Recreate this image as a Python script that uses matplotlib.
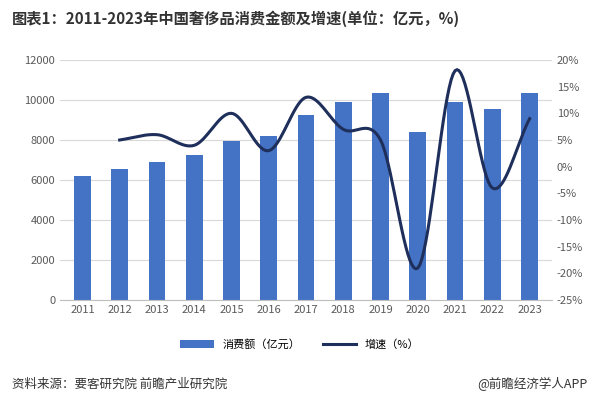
import numpy as np
import matplotlib.pyplot as plt

plt.rcParams["font.family"] = "Noto Sans CJK SC"

years = ["2011", "2012", "2013", "2014", "2015", "2016", "2017",
         "2018", "2019", "2020", "2021", "2022", "2023"]
sales = [6200, 6550, 6900, 7250, 7950, 8200, 9250, 9900, 10350, 8400, 9900, 9550, 10350]
growth_years = years[1:]
growth = [5, 6, 4, 10, 3, 13, 7, 5, -19, 18, -4, 9]


def smooth(x, y, n=20):
    # Catmull-Rom style smoothing, similar to Excel smoothed lines
    x = np.asarray(x, float)
    y = np.asarray(y, float)
    px = np.concatenate([[2 * x[0] - x[1]], x, [2 * x[-1] - x[-2]]])
    py = np.concatenate([[2 * y[0] - y[1]], y, [2 * y[-1] - y[-2]]])
    xs, ys = [], []
    t = np.linspace(0, 1, n)
    for i in range(1, len(px) - 2):
        for p, out in ((px, xs), (py, ys)):
            p0, p1, p2, p3 = p[i - 1], p[i], p[i + 1], p[i + 2]
            out.extend(0.5 * (2 * p1 + (-p0 + p2) * t
                              + (2 * p0 - 5 * p1 + 4 * p2 - p3) * t ** 2
                              + (-p0 + 3 * p1 - 3 * p2 + p3) * t ** 3))
    return xs, ys


fig = plt.figure(figsize=(6, 4), dpi=100)
ax = fig.add_axes([0.1, 0.25, 0.82, 0.60])
x = np.arange(len(years))
bars = ax.bar(x, sales, width=0.45, color="#4472C4", label="消费额（亿元）")
ax.set_ylim(0, 12000)
ax.set_yticks(range(0, 12001, 2000))
ax.set_xticks(x)
ax.set_xticklabels(years)
ax.set_xlim(-0.6, len(years) - 0.4)
ax.grid(axis="y", color="#d9d9d9", linewidth=0.8)
ax.set_axisbelow(True)
for s in ["top", "right", "left"]:
    ax.spines[s].set_visible(False)
ax.spines["bottom"].set_color("#bfbfbf")
ax.tick_params(length=0, labelsize=8, colors="#595959")

ax2 = ax.twinx()
sx, sy = smooth(x[1:], growth)
line, = ax2.plot(sx, sy, color="#1F2F5C", linewidth=2.2, label="增速（%）")
ax2.set_ylim(-25, 20)
ax2.set_yticks(range(-25, 21, 5))
ax2.set_yticklabels([f"{v}%" for v in range(-25, 21, 5)])
for s in ["top", "right", "left", "bottom"]:
    ax2.spines[s].set_visible(False)
ax2.tick_params(length=0, labelsize=8, colors="#595959")

fig.legend(handles=[bars, line], loc="lower center", bbox_to_anchor=(0.5, 0.1),
           ncol=2, frameon=False, fontsize=8, handlelength=3)
fig.text(0.02, 0.94, "图表1：2011-2023年中国奢侈品消费金额及增速(单位：亿元，%)",
         fontsize=11, fontweight="bold", color="#333333")
fig.text(0.02, 0.03, "资料来源：要客研究院 前瞻产业研究院", fontsize=9, color="#333333")
fig.text(0.98, 0.03, "@前瞻经济学人APP", fontsize=9, color="#333333", ha="right")

fig.savefig("out.png", dpi=100)
